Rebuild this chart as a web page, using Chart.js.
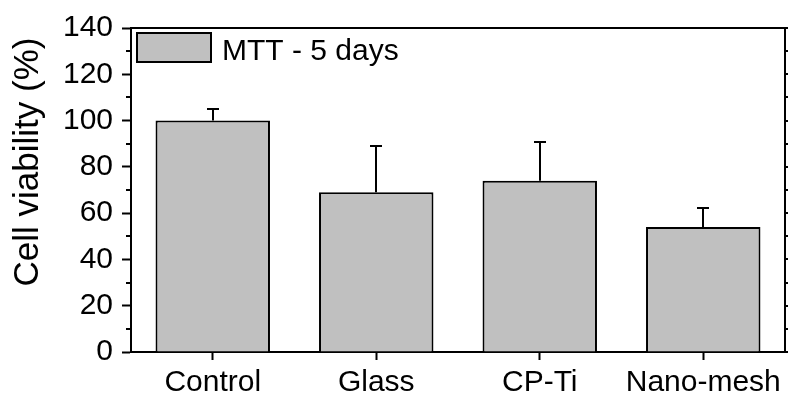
<!DOCTYPE html>
<html>
<head>
<meta charset="utf-8">
<script src="https://cdn.jsdelivr.net/npm/chart.js@4/dist/chart.umd.min.js"></script>
<style>
html,body{margin:0;padding:0;background:#fff;}
#wrap{width:788px;height:400px;position:relative;}
</style>
</head>
<body>
<div id="wrap"><canvas id="c" width="788" height="400"></canvas></div>
<script>
const categories = ['Control', 'Glass', 'CP-Ti', 'Nano-mesh'];
const viability = [100, 69, 74, 54];
const errorUp = [5, 20, 16.7, 8.3];
const yTicks = [0, 20, 40, 60, 80, 100, 120, 140];
const minorTicks = [10, 30, 50, 70, 90, 110, 130];
const seriesLabel = 'MTT - 5 days';
const yTitle = 'Cell viability (%)';

const FONT = 'Liberation Sans';

const framePlugin = {
  id: 'frame',
  afterDatasetsDraw(chart) {
    const ctx = chart.ctx;
    const ca = chart.chartArea;
    const y = chart.scales.y;
    const meta = chart.getDatasetMeta(0);
    ctx.save();
    // error bars
    ctx.strokeStyle = '#000';
    ctx.lineWidth = 2;
    meta.data.forEach((bar, i) => {
      const yTop = y.getPixelForValue(viability[i]);
      const yErr = Math.round(y.getPixelForValue(viability[i] + errorUp[i]));
      const x = Math.round(bar.x);
      ctx.beginPath();
      ctx.moveTo(x, yTop);
      ctx.lineTo(x, yErr);
      ctx.moveTo(x - 6, yErr);
      ctx.lineTo(x + 6, yErr);
      ctx.stroke();
    });
    // frame top & right
    ctx.lineWidth = 2;
    ctx.beginPath();
    ctx.moveTo(ca.left, ca.top);
    ctx.lineTo(ca.right, ca.top);
    ctx.lineTo(ca.right, ca.bottom);
    ctx.stroke();
    // minor ticks left & right, major right
    minorTicks.forEach(v => {
      const py = Math.round(y.getPixelForValue(v));
      ctx.beginPath();
      ctx.moveTo(ca.left - 5, py);
      ctx.lineTo(ca.left, py);
      ctx.moveTo(ca.right, py);
      ctx.lineTo(ca.right + 5, py);
      ctx.stroke();
    });
    yTicks.forEach(v => {
      const py = Math.round(y.getPixelForValue(v));
      ctx.beginPath();
      ctx.moveTo(ca.right, py);
      ctx.lineTo(ca.right + 9, py);
      ctx.stroke();
    });
    // legend
    ctx.fillStyle = '#c0c0c0';
    ctx.fillRect(137, 33, 74, 29);
    ctx.lineWidth = 2;
    ctx.strokeStyle = '#000';
    ctx.strokeRect(137, 33, 74, 29);
    ctx.fillStyle = '#000';
    ctx.font = '30px "' + FONT + '"';
    ctx.textBaseline = 'alphabetic';
    ctx.textAlign = 'left';
    ctx.fillText(seriesLabel, 222, 60);
    // y title
    ctx.translate(38, 162);
    ctx.rotate(-Math.PI / 2);
    ctx.font = '35px "' + FONT + '"';
    ctx.textAlign = 'center';
    ctx.textBaseline = 'alphabetic';
    ctx.fillText(yTitle, 0, 0);
    ctx.restore();
  }
};

new Chart(document.getElementById('c'), {
  type: 'bar',
  data: {
    labels: categories,
    datasets: [{
      label: seriesLabel,
      data: viability,
      backgroundColor: '#c0c0c0',
      borderColor: '#000',
      borderWidth: 2,
      barPercentage: 0.7,
      categoryPercentage: 1.0
    }]
  },
  options: {
    responsive: false,
    animation: false,
    devicePixelRatio: 1,
    layout: { padding: { top: 28, right: 3, left: 0, bottom: 0 } },
    plugins: { legend: { display: false }, tooltip: { enabled: false } },
    scales: {
      x: {
        afterFit(s) { s.height = 48; },
        grid: { drawOnChartArea: false, offset: false, tickLength: 8, tickColor: '#000', tickWidth: 2 },
        border: { color: '#000', width: 2 },
        ticks: { color: '#000', padding: 5, font: { family: FONT, size: 30 }, maxRotation: 0 }
      },
      y: {
        min: 0, max: 140,
        afterFit(s) { s.width = 131; },
        afterBuildTicks(s) { s.ticks = yTicks.map(v => ({ value: v })); },
        grid: { drawOnChartArea: false, tickLength: 9, tickColor: '#000', tickWidth: 2 },
        border: { color: '#000', width: 2 },
        ticks: { color: '#000', padding: 9, font: { family: FONT, size: 30 } }
      }
    }
  },
  plugins: [framePlugin]
});
</script>
</body>
</html>
